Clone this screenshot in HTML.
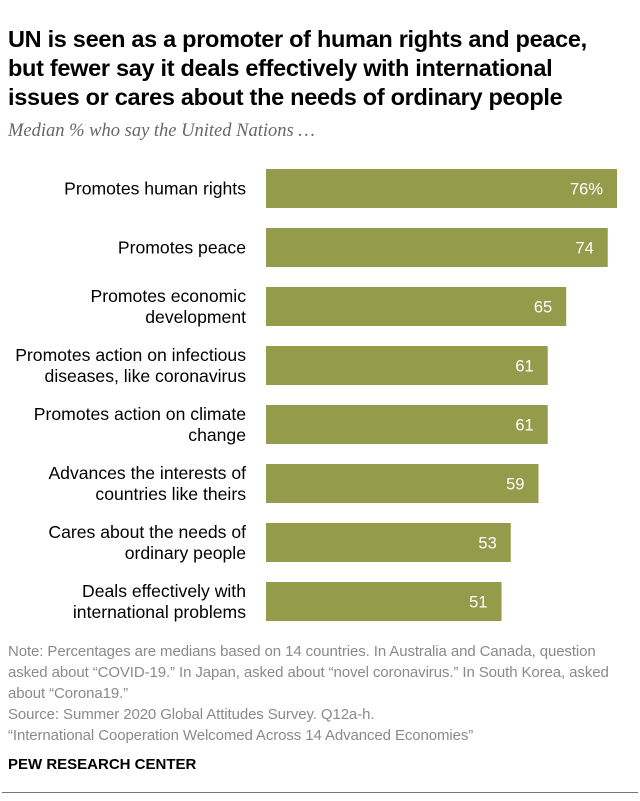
<!DOCTYPE html>
<html><head><meta charset="utf-8"><style>
body{margin:0;width:640px;height:801px;background:#fff;font-family:"Liberation Sans",sans-serif;position:relative;overflow:hidden}
#title{position:absolute;left:8px;top:25px;width:635px;font-size:23.5px;font-weight:bold;line-height:29px;color:#000;letter-spacing:-0.3px;white-space:nowrap}
#sub{position:absolute;left:8px;top:121px;font-family:"Liberation Serif",serif;font-style:italic;font-size:18.5px;color:#666}
.foot{position:absolute;left:8px;font-size:15px;color:#8a8a8a;line-height:21px;white-space:nowrap;letter-spacing:-0.1px}
</style></head><body>
<div id="title">UN is seen as a promoter of human rights and peace,<br>but fewer say it deals effectively with international<br>issues or cares about the needs of ordinary people</div>
<div id="sub">Median % who say the United Nations …</div>
<svg id="chart" width="640" height="640" style="position:absolute;left:0;top:0"></svg>
<div class="foot" style="top:641px">Note: Percentages are medians based on 14 countries. In Australia and Canada, question<br>asked about “COVID-19.” In Japan, asked about “novel coronavirus.” In South Korea, asked<br>about “Corona19.”<br>Source: Summer 2020 Global Attitudes Survey. Q12a-h.<br>“International Cooperation Welcomed Across 14 Advanced Economies”</div>
<div style="position:absolute;left:8px;top:756px;font-weight:bold;font-size:15px;color:#000">PEW RESEARCH CENTER</div>
<div style="position:absolute;left:2px;top:792px;width:636px;height:1px;background:#777"></div>
<script>
const categories=[["Promotes human rights"],["Promotes peace"],["Promotes economic","development"],["Promotes action on infectious","diseases, like coronavirus"],["Promotes action on climate","change"],["Advances the interests of","countries like theirs"],["Cares about the needs of","ordinary people"],["Deals effectively with","international problems"]];
const values=[76,74,65,61,61,59,53,51];
const valueLabels=["76%","74","65","61","61","59","53","51"];
const svg=document.getElementById('chart');const NS="http://www.w3.org/2000/svg";
const x0=266,scale=351/76,y0=169,step=59,bh=39;
const xs=v=>v*scale, ys=i=>y0+i*step;
values.forEach((v,i)=>{
 const r=document.createElementNS(NS,'rect');
 r.setAttribute('x',x0);r.setAttribute('y',ys(i));r.setAttribute('width',xs(v));r.setAttribute('height',bh);r.setAttribute('fill','#949c4b');
 
 
 svg.appendChild(r);
 const t=document.createElementNS(NS,'text');
 t.setAttribute('x',x0+xs(v)-14);t.setAttribute('y',ys(i)+bh/2+6);t.setAttribute('text-anchor','end');t.setAttribute('fill','#fff');
 t.setAttribute('font-family','"Liberation Sans",sans-serif');t.setAttribute('font-size','16.5');
 t.textContent=valueLabels[i];
 
 
 svg.appendChild(t);
 const lines=categories[i];
 const c=document.createElementNS(NS,'text');
 c.setAttribute('text-anchor','end');c.setAttribute('font-family','"Liberation Sans",sans-serif');c.setAttribute('font-size','17.6');c.setAttribute('fill','#000');
 
 
 const mid=ys(i)+bh/2;
 lines.forEach((l,j)=>{const s=document.createElementNS(NS,'tspan');s.setAttribute('x',246);s.setAttribute('y',mid+6+(j-(lines.length-1)/2)*21);s.textContent=l;c.appendChild(s);});
 svg.appendChild(c);
});
</script>
</body></html>
